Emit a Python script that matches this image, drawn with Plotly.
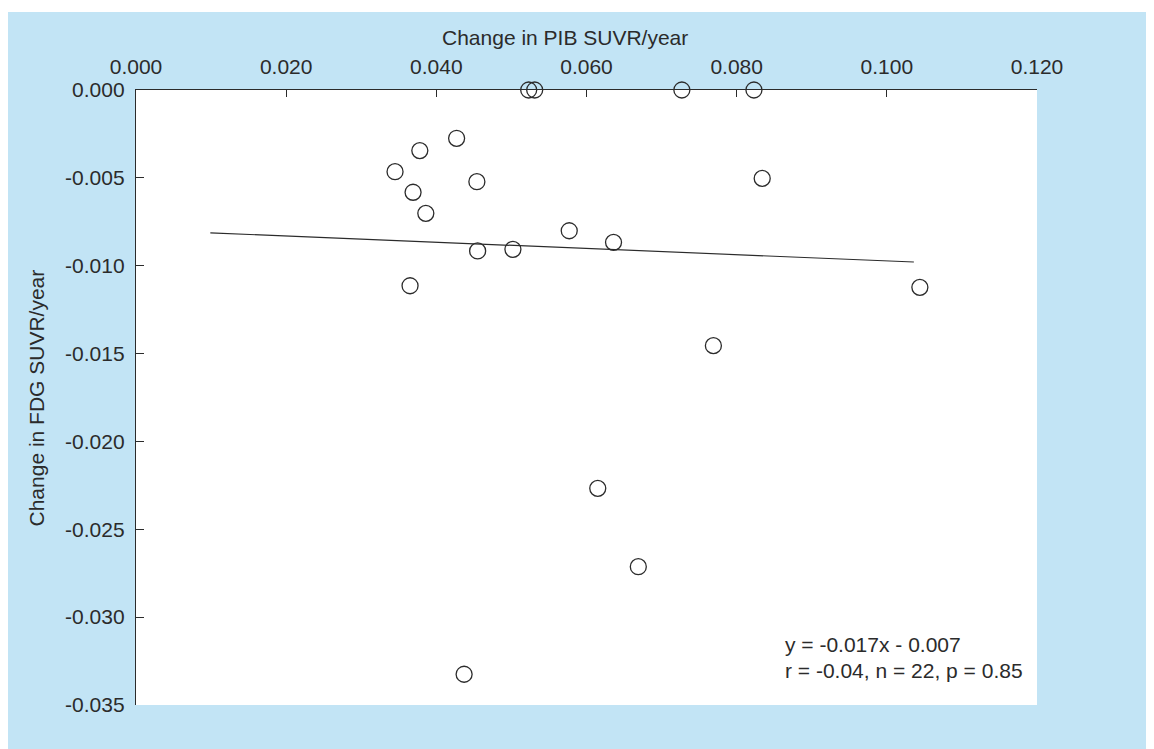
import plotly.graph_objects as go

# Data
pib_change = [0.0427, 0.0378, 0.0345, 0.0454, 0.0369, 0.0386, 0.0455, 0.0502,
              0.0365, 0.0577, 0.0636, 0.1044, 0.0769, 0.0834, 0.0615, 0.0669,
              0.0437, 0.0523, 0.0531, 0.0727, 0.0823]
fdg_change = [-0.00275, -0.00345, -0.00465, -0.00522, -0.00582, -0.00702, -0.00916, -0.00907,
              -0.01114, -0.00801, -0.00867, -0.01123, -0.01455, -0.00503, -0.02267, -0.02713,
              -0.03325, 0.0, 0.0, 0.0, 0.0]

fit_x = [0.0099, 0.1036]
fit_y = [-0.00813, -0.00979]

x_tick_vals = [0.0, 0.02, 0.04, 0.06, 0.08, 0.10, 0.12]
x_tick_text = ["0.000", "0.020", "0.040", "0.060", "0.080", "0.100", "0.120"]
y_tick_vals = [0.0, -0.005, -0.010, -0.015, -0.020, -0.025, -0.030, -0.035]
y_tick_text = ["0.000", "-0.005", "-0.010", "-0.015", "-0.020", "-0.025", "-0.030", "-0.035"]

x_title = "Change in PIB SUVR/year"
y_title = "Change in FDG SUVR/year"
eq_line1 = "y = -0.017x - 0.007"
eq_line2 = "r = -0.04, n = 22, p = 0.85"

FONT = "Liberation Sans, Arial, Helvetica, sans-serif"
INK = "#2b2b2b"
BLUE = "#c2e4f5"

fig = go.Figure()
fig.add_trace(go.Scatter(x=fit_x, y=fit_y, mode="lines",
                         line=dict(color=INK, width=1.2), hoverinfo="skip",
                         showlegend=False))
fig.add_trace(go.Scatter(x=pib_change, y=fdg_change, mode="markers",
                         marker=dict(symbol="circle-open", size=16, color=INK,
                                     line=dict(width=1.3)),
                         cliponaxis=False, showlegend=False))

fig.update_layout(
    width=1162, height=757, autosize=False,
    margin=dict(l=128, r=133, t=82, b=60),
    paper_bgcolor=BLUE, plot_bgcolor="white",
    font=dict(family=FONT, size=21, color=INK),
    xaxis=dict(side="top", range=[0, 0.12], tickvals=x_tick_vals, ticktext=x_tick_text,
               showline=True, linecolor=INK, linewidth=1.3, ticks="inside",
               ticklen=7, tickcolor=INK, tickwidth=1.3, showgrid=False, zeroline=False,
               tickfont=dict(size=21, color=INK), ticklabelstandoff=6),
    yaxis=dict(range=[-0.035, 0], tickvals=y_tick_vals, ticktext=y_tick_text,
               showline=True, linecolor=INK, linewidth=1.3, ticks="inside",
               ticklen=8, tickcolor=INK, tickwidth=1.3, showgrid=False, zeroline=False,
               tickfont=dict(size=21, color=INK), ticklabelstandoff=6),
    shapes=[
        dict(type="rect", xref="paper", yref="paper", x0=-0.2, x1=1.2, y0=1.1268, y1=1.2,
             fillcolor="white", line=dict(width=0), layer="below"),
    ],
    annotations=[
        dict(text=x_title, xref="paper", yref="paper", x=0.476, y=1.0846,
             xanchor="center", yanchor="middle", showarrow=False,
             font=dict(size=21, color=INK)),
        dict(text=y_title, xref="paper", yref="paper", x=-0.1099, y=0.5,
             xanchor="center", yanchor="middle", textangle=-90, showarrow=False,
             font=dict(size=21, color=INK)),
        dict(text=eq_line1, xref="paper", yref="paper", x=0.718, y=0.0976,
             xanchor="left", yanchor="middle", showarrow=False,
             font=dict(size=21, color=INK)),
        dict(text=eq_line2, xref="paper", yref="paper", x=0.718, y=0.0569,
             xanchor="left", yanchor="middle", showarrow=False,
             font=dict(size=21, color=INK)),
    ],
)

fig.write_html("out.html")
